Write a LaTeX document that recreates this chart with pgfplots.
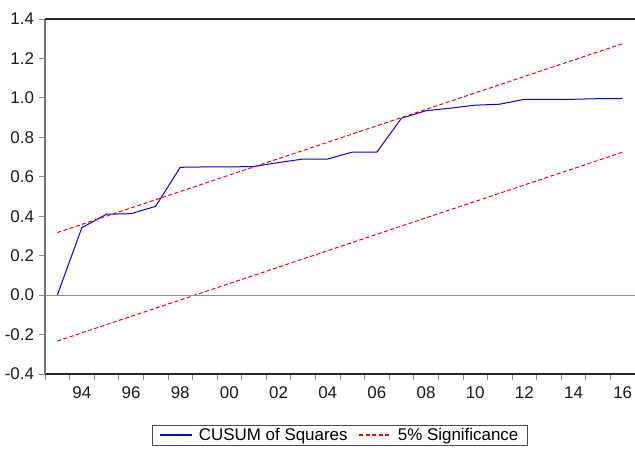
\documentclass[border=0pt]{standalone}
\usepackage{fontspec}
\setmainfont{Liberation Sans}
\usepackage{pgfplots}
\pgfplotsset{compat=1.18}
\begin{document}
\begin{tikzpicture}
\begin{axis}[
  at={(0,0)}, anchor=south west,
  scale only axis, width=590bp, height=355bp,
  xmin=1992.5, xmax=2016.5, ymin=-0.4, ymax=1.4,
  clip=false,
  axis x line*=bottom, axis y line*=left,
  x axis line style={black!85, line width=1.2bp, -},
  y axis line style={black!55, line width=1.2bp, -},
  tick align=outside, major tick length=6bp,
  tick style={black!45, line width=0.8bp},
  xtick={1992.5,1993.5,...,2016.5},
  xticklabels={},
  extra x ticks={1994,1996,...,2016},
  extra x tick labels={94,96,98,00,02,04,06,08,10,12,14,16},
  extra x tick style={major tick length=0pt, tick label style={yshift=-9bp}},
  ytick={-0.4,-0.2,0,0.2,0.4,0.6,0.8,1.0,1.2,1.4},
  yticklabels={-0.4,-0.2,0.0,0.2,0.4,0.6,0.8,1.0,1.2,1.4},
  yticklabel style={xshift=-1.5bp},
  tick label style={font=\fontsize{17}{20}\selectfont, text=black!90},
  legend style={at={(0.5,0)}, anchor=north, yshift=-51bp, legend columns=2,
    draw=black!70, font=\fontsize{17}{20}\selectfont,
    inner xsep=7bp, inner ysep=1bp,
    /tikz/every odd column/.append style={column sep=4bp},
    /tikz/every even column/.append style={column sep=9bp}},
  legend image code/.code={\draw[#1, line width=1.3bp] (0bp,0bp) -- (32bp,0bp);},
]
\addplot[blue, draw=blue, line width=1bp] coordinates {
 (1993,0) (1994,0.342) (1995,0.41) (1996,0.413) (1997,0.45) (1998,0.648)
 (1999,0.65) (2000,0.65) (2001,0.652) (2002,0.672) (2003,0.69) (2004,0.69)
 (2005,0.725) (2006,0.725) (2007,0.897) (2008,0.935) (2009,0.948) (2010,0.963)
 (2011,0.968) (2012,0.993) (2013,0.993) (2014,0.993) (2015,0.996) (2016,0.997)};
\addlegendentry{CUSUM of Squares}
\addplot[red, draw=red, line width=1bp, dash pattern=on 4bp off 2.5bp] coordinates {(1993,0.317) (2016,1.275)};
\addlegendentry{5\% Significance}
\addplot[red, draw=red, line width=1bp, dash pattern=on 4bp off 2.5bp, forget plot] coordinates {(1993,-0.233) (2016,0.725)};
\addplot[black!45, line width=1bp, forget plot] coordinates {(1992.5,0) (2016.5,0)};
\draw[black!85, line width=1.2bp] (rel axis cs:0,1) -- (rel axis cs:1,1);
\end{axis}
\pgfresetboundingbox
\path[use as bounding box] (-45bp,-77bp) rectangle (590bp,374bp);
\end{tikzpicture}
\end{document}
